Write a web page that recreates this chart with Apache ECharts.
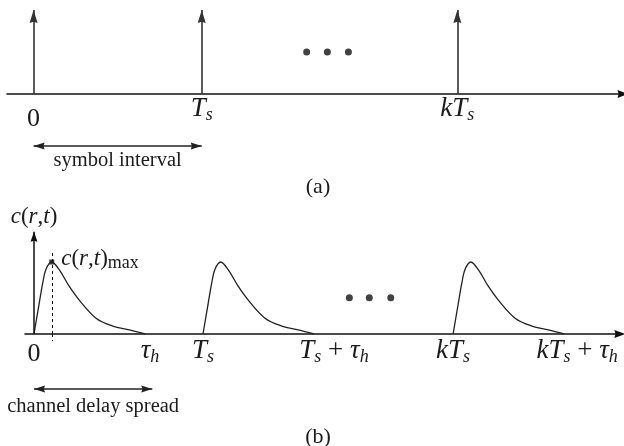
<!DOCTYPE html>
<html>
<head>
<meta charset="utf-8">
<script src="https://cdn.jsdelivr.net/npm/echarts@6/dist/echarts.min.js"></script>
<style>
  html, body { margin: 0; padding: 0; background: #fff; }
  #chart { width: 624px; height: 446px; }
</style>
</head>
<body>
<div id="chart"></div>
<script>
// Time axis measured in symbol intervals (Ts = 1).

// (a) transmitted impulse train
const impulseTimes = [0, 1, 2.52];            // 0, Ts, kTs
const impulseHeight = 1;
const dotsA = [[1.624, 0.5], [1.747, 0.5], [1.872, 0.5]];
const tickValuesA = [0, 1, 2.52];
const tickLabelsA = ['{zeroA|0}', '{it|T}{sub|s}', '{it|kT}{sub|s}'];
const symbolSpan = [0, 1];

// (b) received pulses, each stretched over the delay spread
const pulseStarts = [0, 1, 2.48];             // 0, Ts, kTs
const delaySpread = 0.657;                    // tau_h
// one received pulse: [time after launch, c(r,t) / c(r,t)max]
const pulseShape = [
  [0, 0], [0.031, 0.43], [0.051, 0.70], [0.071, 0.90], [0.105, 1.0],
  [0.150, 0.89], [0.209, 0.66], [0.268, 0.47], [0.367, 0.22],
  [0.466, 0.11], [0.564, 0.056], [0.657, 0]
];
const peakPoint = [0.105, 1];
const dotsB = [[1.866, 0.504], [1.984, 0.504], [2.111, 0.504]];
const tickValuesB = [0, 0.657, 1, 1.657, 2.48, 3.137];
const tickLabelsB = [
  '{zeroB|0}',
  '{it|τ}{sub|h}',
  '{it|T}{sub|s}',
  '{it|T}{sub|s}{rm| + }{it|τ}{sub|h}',
  '{it|kT}{sub|s}',
  '{it|kT}{sub|s}{rm| + }{it|τ}{sub|h}'
];
const spreadSpan = [0, 0.70];

const ink = '#1b1b1b';
const serif = '"Liberation Serif", "DejaVu Serif", serif';
// filled arrow head with a shallow notch, tip pointing up before rotation
const head = 'path://M5,0L10,14L5,12.6L0,14Z';

// label nudges (px of left padding) for the wide labels of panel (b)
const labelPadB = [0, 10, 0, 40, 0, 26];

const mathRich = {
  it:    { fontFamily: serif, fontStyle: 'italic', fontSize: 27, lineHeight: 30, color: ink },
  rm:    { fontFamily: serif, fontSize: 27, lineHeight: 30, color: ink },
  sub:   { fontFamily: serif, fontStyle: 'italic', fontSize: 18, lineHeight: 10, verticalAlign: 'bottom', color: ink },
  zeroA: { fontFamily: serif, fontSize: 26, lineHeight: 50, color: ink },
  zeroB: { fontFamily: serif, fontSize: 26, lineHeight: 36, color: ink }
};
labelPadB.forEach(p => { if (p) mathRich['p' + p] = { width: p, fontSize: 10 }; });

const cRich = {
  it:  { fontFamily: serif, fontStyle: 'italic', fontSize: 23, lineHeight: 26, color: ink },
  rm:  { fontFamily: serif, fontSize: 23, lineHeight: 26, color: ink },
  mx:  { fontFamily: serif, fontSize: 18, lineHeight: 15, verticalAlign: 'bottom', color: ink }
};
const cText = '{it|c}{rm|(}{it|r}{rm|,}{it|t}{rm|)}';

const chart = echarts.init(document.getElementById('chart'), null, { renderer: 'canvas' });

function pulseData(start) {
  return pulseShape.map(p => [start + p[0], p[1]]);
}

const arrowLine = { color: '#222', width: 1.5, type: 'solid' };
const hiddenX = (grid, min, max) => ({ gridIndex: grid, type: 'value', min: min, max: max, show: false });

// empty line series that only carries mark lines
function marks(xi, yi, markLine) {
  return { type: 'line', xAxisIndex: xi, yAxisIndex: yi, data: [], silent: true,
           markLine: Object.assign({ silent: true, animation: false, emphasis: { disabled: true } }, markLine) };
}

const xRangeA = [-0.158, 3.505];
const xRangeB = [-0.0533, 3.467];

const option = {
  animation: false,
  backgroundColor: '#fff',
  grid: [
    // (a) plot, (a) annotation strip, (b) plot, (b) annotation strip
    { left: 7, top: 10, width: 616, height: 84, containLabel: false, outerBoundsMode: 'none' },
    { left: 7, top: 94, width: 616, height: 84, containLabel: false, outerBoundsMode: 'none' },
    { left: 25, top: 231.76, width: 594.9, height: 102.24, containLabel: false, outerBoundsMode: 'none' },
    { left: 25, top: 334, width: 594.9, height: 86.4, containLabel: false, outerBoundsMode: 'none' }
  ],
  xAxis: [
    {
      gridIndex: 0, type: 'value', min: xRangeA[0], max: xRangeA[1],
      axisLine: { show: true, onZero: true, symbol: ['none', head], symbolSize: [8, 11],
                  lineStyle: { color: '#111', width: 1.5 } },
      axisTick: { show: false },
      splitLine: { show: false },
      axisLabel: {
        customValues: tickValuesA, margin: 0,
        formatter: v => tickLabelsA[tickValuesA.indexOf(v)],
        rich: mathRich
      }
    },
    hiddenX(1, xRangeA[0], xRangeA[1]),
    {
      gridIndex: 2, type: 'value', min: xRangeB[0], max: xRangeB[1],
      axisLine: { show: true, onZero: true, symbol: ['none', head], symbolSize: [8, 11],
                  lineStyle: { color: '#111', width: 1.5 } },
      axisTick: { show: false },
      splitLine: { show: false },
      axisLabel: {
        customValues: tickValuesB, margin: 2,
        formatter: v => {
          const i = tickValuesB.indexOf(v);
          const p = labelPadB[i];
          return (p ? '{p' + p + '| }' : '') + tickLabelsB[i];
        },
        rich: mathRich
      }
    },
    hiddenX(3, xRangeB[0], xRangeB[1])
  ],
  yAxis: [
    { gridIndex: 0, type: 'value', min: 0, max: 1, show: false },
    { gridIndex: 1, type: 'value', min: -1, max: 0, show: false },
    { gridIndex: 2, type: 'value', min: 0, max: 1.42, show: false },
    { gridIndex: 3, type: 'value', min: -1.2, max: 0, show: false }
  ],
  graphic: [
    { type: 'text', x: 318, y: 187, style: { text: '(a)', font: '22px ' + serif, fill: ink, align: 'center', verticalAlign: 'middle' } },
    { type: 'text', x: 318, y: 437, style: { text: '(b)', font: '22px ' + serif, fill: ink, align: 'center', verticalAlign: 'middle' } }
  ],
  series: [
    // impulses of panel (a)
    marks(0, 0, {
      symbol: ['none', head], symbolSize: [8, 13], symbolOffset: [[0, 0], [0, 6.5]],
      lineStyle: { color: '#333', width: 1.6, type: 'solid' },
      label: { show: false },
      data: impulseTimes.map(t => [{ coord: [t, 0] }, { coord: [t, impulseHeight] }])
    }),
    // symbol interval annotation
    marks(1, 1, {
      symbol: [head, head], symbolSize: [7, 11], symbolOffset: [[0, 5.5], [0, 5.5]],
      lineStyle: arrowLine,
      label: { show: true, position: 'insideMiddleBottom', distance: 4, formatter: 'symbol interval',
               fontFamily: serif, fontSize: 20.5, color: ink },
      data: [[{ coord: [symbolSpan[0], -0.619] }, { coord: [symbolSpan[1], -0.619] }]]
    }),
    // ellipsis dots
    {
      type: 'scatter', xAxisIndex: 0, yAxisIndex: 0, data: dotsA, symbolSize: 7, silent: true,
      itemStyle: { color: '#111' }
    },
    {
      type: 'scatter', xAxisIndex: 2, yAxisIndex: 2, data: dotsB, symbolSize: 7, silent: true,
      itemStyle: { color: '#111' }
    },
    // received pulses
    ...pulseStarts.map(s => ({
      type: 'line', xAxisIndex: 2, yAxisIndex: 2, data: pulseData(s),
      smooth: 0.35, symbol: 'none', silent: true,
      lineStyle: { color: '#222', width: 1.3 }
    })),
    // vertical axis and peak guide
    marks(2, 2, {
      data: [
        [
          { coord: [0, 0], symbol: 'none' },
          { coord: [0, 1.42], symbol: head, symbolSize: [7, 10], symbolOffset: [0, 5],
            lineStyle: { color: '#111', width: 1.5, type: 'solid' },
            label: { show: true, position: 'end', distance: 2, formatter: cText, rich: cRich, color: ink } }
        ],
        [
          { coord: [peakPoint[0], 0], symbol: 'none' },
          { coord: [peakPoint[0], 1.14], symbol: 'none',
            lineStyle: { color: '#111', width: 1, type: [3, 3] }, label: { show: false } }
        ]
      ]
    }),
    // guide continues below the axis, and the delay spread arrow
    marks(3, 3, {
      data: [
        [
          { coord: [peakPoint[0], 0], symbol: 'none' },
          { coord: [peakPoint[0], -0.1], symbol: 'none',
            lineStyle: { color: '#111', width: 1, type: [3, 3] }, label: { show: false } }
        ],
        [
          { coord: [spreadSpan[0], -0.764], symbol: head, symbolSize: [7, 11], symbolOffset: [0, 5.5] },
          { coord: [spreadSpan[1], -0.764], symbol: head, symbolSize: [7, 11], symbolOffset: [0, 5.5],
            lineStyle: arrowLine,
            label: { show: true, position: 'insideMiddleBottom', distance: 7, formatter: 'channel delay spread',
                     fontFamily: serif, fontSize: 20.5, color: ink } }
        ]
      ]
    }),
    {
      type: 'scatter', xAxisIndex: 2, yAxisIndex: 2, data: [peakPoint], symbol: 'rect', symbolSize: 5, silent: true,
      itemStyle: { color: '#111' },
      label: { show: true, position: 'right', distance: 7, offset: [0, -3], color: ink,
               textBorderWidth: 0, opacity: 1,
               formatter: cText + '{mx|max}', rich: cRich }
    }
  ]
};

chart.setOption(option);
</script>
</body>
</html>
